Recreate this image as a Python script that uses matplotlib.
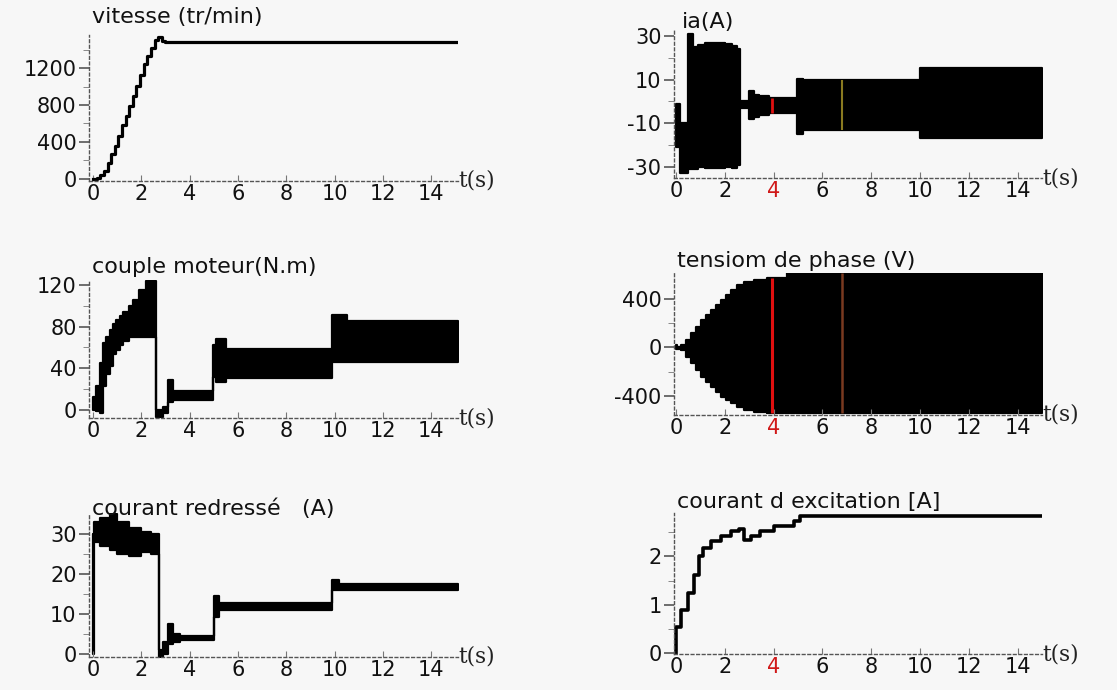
import matplotlib.pyplot as plt
import numpy as np

W, H = 1117, 690

# vitesse (tr/min)
vit_t = [0, 0.15, 0.3, 0.45, 0.6, 0.75, 0.9, 1.05, 1.2, 1.35, 1.5, 1.65, 1.8, 1.95,
         2.1, 2.25, 2.4, 2.55, 2.7, 2.85, 3.0, 15.1]
vit_v = [0, 10, 40, 90, 170, 270, 360, 470, 580, 680, 790, 900, 1010, 1120,
         1240, 1330, 1420, 1500, 1530, 1490, 1481, 1481]

# ia (A): enveloppe haute / basse
ia_t = [0.0, 0.18, 0.5, 0.7, 0.9, 1.2, 1.6, 2.0, 2.3, 2.5, 2.62, 3.0, 3.2, 3.4, 3.8,
        4.95, 5.2, 5.45, 10.0, 15.0]
ia_hi = [-1, -10, 31, 25, 26, 27, 27, 26.5, 25.5, 24, 0, 5, 3, 2.5, 1.5,
         10.5, 9.8, 9.8, 15.3, 15.3]
ia_lo = [-21, -33, -31, -31, -30, -30.5, -30.5, -30, -30.5, -29, -3, -8, -7, -6, -5.3,
         -15, -13, -13, -16.8, -16.8]

# couple moteur (N.m)
cm_t = [0.0, 0.14, 0.28, 0.41, 0.55, 0.69, 0.83, 0.97, 1.1, 1.24, 1.5, 1.65, 1.9, 2.2,
        2.62, 2.9, 3.1, 3.3, 4.95, 5.1, 5.5, 9.9, 10.5, 15.1]
cm_hi = [13, 23, 45, 64, 70, 77, 82, 86, 90, 94, 100, 105, 115, 124,
         0, 3, 29, 18, 62, 68, 59, 91, 85, 85]
cm_lo = [0.5, -1, -3, 23, 35, 42, 54, 58, 62, 66, 70, 70, 70, 70,
         -6, -3, 8, 10, 32, 27, 31, 46, 46, 46]

# tension de phase (V)
tp_t = [0.0, 0.05, 0.2, 0.41, 0.61, 0.82, 1.02, 1.22, 1.43, 1.63, 1.83, 2.04, 2.24,
        2.51, 2.79, 3.19, 3.74, 4.55, 15.0]
tp_hi = [20, 0, 19, 60, 115, 170, 225, 266, 307, 348, 389, 430, 471,
         512, 540, 553, 567, 608, 608]
tp_lo = [-10, -10, -22, -77, -132, -186, -241, -282, -323, -364, -405, -433, -460,
         -488, -515, -529, -542, -542, -542]

# courant redresse (A)
cr_t = [0.0, 0.03, 0.3, 0.7, 1.0, 1.5, 2.0, 2.4, 2.73, 2.9, 3.1, 3.3, 3.6, 5.0, 5.2,
        9.9, 10.2, 15.1]
cr_hi = [30, 33, 34, 35, 33, 31.5, 30.5, 30, 0.8, 3, 7.5, 5, 4.5, 14.5, 12.6,
         18.5, 17.6, 17.6]
cr_lo = [0, 28, 27, 26, 25, 24.5, 25.5, 25, -1, 0, 2.5, 3, 3.4, 9.2, 10.9,
         16, 16, 16]

# courant d'excitation (A)
ce_t = [0, 0.01, 0.2, 0.48, 0.75, 0.95, 1.09, 1.43, 1.83, 2.24, 2.58, 2.79, 3.06,
        3.46, 4.01, 4.82, 5.1, 15.0]
ce_v = [0, 0.54, 0.89, 1.24, 1.62, 2.0, 2.17, 2.31, 2.42, 2.52, 2.56, 2.35, 2.42,
        2.52, 2.63, 2.73, 2.83, 2.83]

xticks = [0, 2, 4, 6, 8, 10, 12, 14]
BG = '#f7f7f7'

fig = plt.figure(figsize=(W / 100, H / 100), dpi=100, facecolor=BG)


def make_ax(box, xl, yl, yticks, yminor, title, title_xy, red4=False):
    # box = (gauche, haut, droite, bas) en pixels
    l, t, r, b = box
    ax = fig.add_axes([l / W, 1 - b / H, (r - l) / W, (b - t) / H])
    ax.set_facecolor(BG)
    ax.set_xlim(*xl)
    ax.set_ylim(*yl)
    for s in ['top', 'right']:
        ax.spines[s].set_visible(False)
    for s in ['left', 'bottom']:
        ax.spines[s].set_linestyle((0, (2, 2)))
        ax.spines[s].set_color('#555555')
        ax.spines[s].set_linewidth(1.0)
    ax.set_xticks(xticks)
    ax.set_xticklabels([str(v) for v in xticks])
    ax.set_yticks(yticks)
    ax.set_yticklabels([str(v) for v in yticks])
    ax.set_yticks(yminor, minor=True)
    ax.tick_params(axis='x', direction='in', length=4, color='#777777', pad=2,
                   labelsize=15, labelcolor='#111111')
    ax.tick_params(axis='y', direction='out', length=7, width=1.2, color='#555555',
                   pad=2, labelsize=15, labelcolor='#111111')
    ax.tick_params(axis='y', which='minor', direction='out', length=4, color='#777777')
    if red4:
        ax.get_xticklabels()[2].set_color('#d01818')
    fig.text(title_xy[0] / W, 1 - title_xy[1] / H, title, fontsize=16,
             ha='left', va='center', color='#111111')
    ax.text(1.0, 0.0, 't(s)', transform=ax.transAxes, ha='left', va='center',
            family='DejaVu Serif', fontsize=15.5, color='#222222')
    return ax


# vitesse
ax1 = make_ax((89, 35, 458, 181), (-0.166, 15.11), (-22, 1557),
              [0, 400, 800, 1200], [200, 600, 1000, 1400],
              'vitesse (tr/min)', (92, 17))
ax1.plot(vit_t, vit_v, drawstyle='steps-post', color='black', lw=2.3)

# ia
ax2 = make_ax((674, 30, 1042, 178), (-0.08, 15.0), (-35.1, 32.8),
              [-30, -10, 10, 30], [-20, 0, 20],
              'ia(A)', (682, 22), red4=True)
ax2.fill_between(ia_t, ia_lo, ia_hi, step='post', color='black', lw=1.6)
ax2.vlines([3.95], -5.3, 1.5, color='#e01010', lw=2)
ax2.vlines([6.8], -13, 9.8, color='#8a7a20', lw=1.5)

# couple moteur
ax3 = make_ax((89, 280, 458, 418), (-0.166, 15.11), (-7.4, 124.5),
              [0, 40, 80, 120], [20, 60, 100],
              'couple moteur(N.m)', (92, 267))
ax3.fill_between(cm_t, cm_lo, cm_hi, step='post', color='black', lw=1.6)

# tension de phase
ax4 = make_ax((674, 273, 1042, 415), (-0.08, 15.0), (-556, 612),
              [-400, 0, 400], [-200, 200],
              'tensiom de phase (V)', (677, 261), red4=True)
ax4.fill_between(tp_t, tp_lo, tp_hi, step='post', color='black', lw=1.6)
ax4.vlines([3.95], -542, 567, color='#e01010', lw=2.2)
ax4.vlines([6.8], -542, 608, color='#7a3a20', lw=1.8)

# courant redresse
ax5 = make_ax((89, 513, 458, 657), (-0.166, 15.11), (-0.84, 35.3),
              [0, 10, 20, 30], [5, 15, 25],
              'courant redressé   (A)', (92, 509))
ax5.fill_between(cr_t, cr_lo, cr_hi, step='post', color='black', lw=1.6)

# courant d'excitation
ax6 = make_ax((674, 513, 1042, 654), (-0.08, 15.0), (-0.02, 2.9),
              [0, 1, 2], [0.5, 1.5, 2.5],
              'courant d excitation [A]', (677, 502), red4=True)
ax6.plot(ce_t, ce_v, drawstyle='steps-post', color='black', lw=2.6)

fig.savefig('out.png', dpi=100, facecolor=BG)
